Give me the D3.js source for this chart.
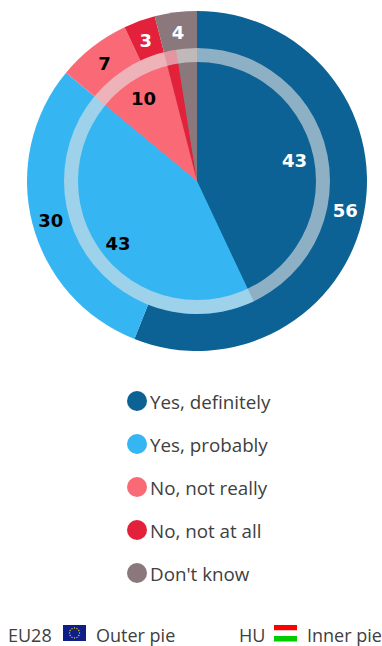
<!DOCTYPE html>
<html><head><meta charset="utf-8">
<script src="https://cdn.jsdelivr.net/npm/d3@7"></script>
<style>html,body{margin:0;padding:0;background:#fff}svg{display:block}
text{font-family:"Open Sans",sans-serif}</style></head>
<body><svg id="c" width="382" height="646"></svg>
<script>
const categories=["Yes, definitely","Yes, probably","No, not really","No, not at all","Don't know"];
const colours=["#0c6295","#35b6f2","#fa6a76","#e3213a","#8a787c"];
const outerValues=[56,30,7,3,4];
const innerValues=[43,43,10,1.5,2.5];
const outerLabels=[56,30,7,3,4];
const innerLabels=[43,43,10,null,null];
const labelColours=["#fff","#000","#000","#fff","#fff"];
const svg=d3.select("#c");
const g=svg.append("g").attr("transform","translate(197,181)");
const pie=d3.pie().sort(null).value(d=>d);
const arcOuter=d3.arc().innerRadius(0).outerRadius(170);
const arcInner=d3.arc().innerRadius(0).outerRadius(133);
const arcRing=d3.arc().innerRadius(119).outerRadius(133).startAngle(0).endAngle(2*Math.PI);
const lblOuter=d3.arc().innerRadius(151).outerRadius(151);
const lblInner=d3.arc().innerRadius(100).outerRadius(100);
g.selectAll(".o").data(pie(outerValues)).join("path").attr("d",arcOuter).attr("fill",(d,i)=>colours[i]);
g.selectAll(".i").data(pie(innerValues)).join("path").attr("d",arcInner).attr("fill",(d,i)=>colours[i]);
g.append("path").attr("d",arcRing()).attr("fill","#e4e4e4").attr("fill-opacity",0.6);
function labels(vals,lab,arc){
 g.selectAll(null).data(pie(vals)).join("text")
  .filter((d,i)=>lab[i]!==null)
  .attr("transform",d=>`translate(${arc.centroid(d)})`)
  .attr("text-anchor","middle").attr("y",1.5).attr("dy","0.36em")
  .style("font-family","'DejaVu Sans'").attr("font-size",18).attr("font-weight",700)
  .attr("fill",d=>labelColours[d.index]).text(d=>lab[d.index]);
}
labels(outerValues,outerLabels,lblOuter);
labels(innerValues,innerLabels,lblInner);
const y=d3.scalePoint().domain(categories).range([401,573]);
const leg=svg.selectAll(".l").data(categories).join("g").attr("transform",d=>`translate(137,${y(d)})`);
leg.append("circle").attr("r",10).attr("fill",(d,i)=>colours[i]);
leg.append("text").attr("x",13).attr("y",1).attr("dy","0.36em").attr("font-size",18.8).attr("fill","#404040").text(d=>d);
const foot=[{t:"EU28",x:8},{t:"Outer pie",x:96},{t:"HU",x:239},{t:"Inner pie",x:307}];
svg.selectAll(".f").data(foot).join("text").attr("x",d=>d.x).attr("y",642).attr("font-size",18).attr("fill","#404040").text(d=>d.t);
// EU flag
const flag=svg.append("g").attr("transform","translate(63,625)");
flag.append("rect").attr("width",23).attr("height",16).attr("fill","#0f1f8a");
flag.selectAll("circle").data(d3.range(12)).join("circle")
 .attr("cx",d=>11.5+5*Math.sin(d*Math.PI/6)).attr("cy",d=>8-5*Math.cos(d*Math.PI/6)).attr("r",0.7).attr("fill","#e8d020");
// HU flag
const hu=svg.append("g").attr("transform","translate(274,625)");
hu.selectAll("rect").data(["#ff0000","#ffffff","#00cc00"]).join("rect")
 .attr("y",(d,i)=>i*5.5).attr("width",23).attr("height",5.5).attr("fill",d=>d);
</script></body></html>
